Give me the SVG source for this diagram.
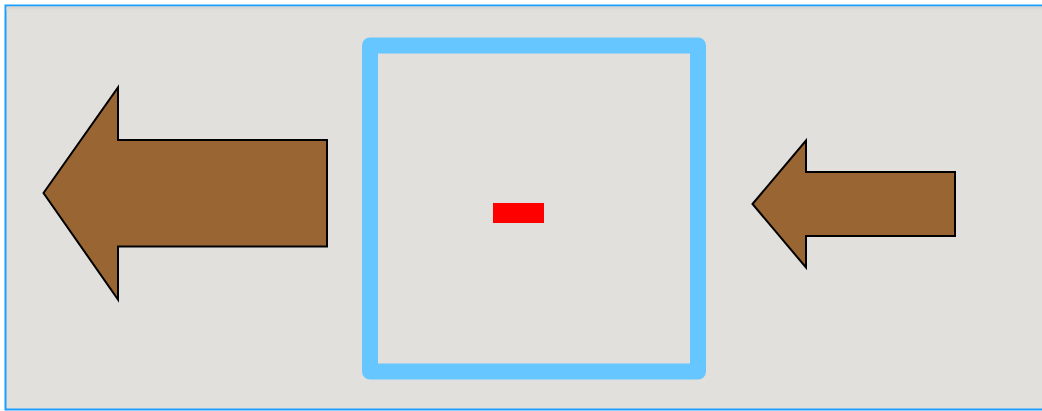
<svg xmlns="http://www.w3.org/2000/svg" width="1042" height="411" viewBox="0 0 1042 411">
<defs>
<style>
.arrow{fill:#996633;stroke:#000;stroke-width:2;stroke-linejoin:miter}
</style>
<linearGradient id="sh" x1="0" y1="0" x2="0" y2="1">
<stop offset="0" stop-color="#d3d2cf"/>
<stop offset="1" stop-color="#e1e0dd"/>
</linearGradient>
</defs>
<rect width="1042" height="411" fill="#ffffff"/>
<g id="frame">
<rect x="5.5" y="5.5" width="1040" height="404" fill="#e1e0dd" stroke="#1a9eff" stroke-width="2"/>
<rect x="6.5" y="6.5" width="1036" height="4" fill="url(#sh)"/>
</g>
<g id="box">
<rect x="370" y="45.5" width="328" height="326" fill="none" stroke="#66c6ff" stroke-width="16" stroke-linejoin="round"/>
</g>
<g id="marker">
<rect x="493" y="203" width="51" height="20" fill="#ff0000"/>
</g>
<g id="left-arrow">
<polygon class="arrow" points="43.5,193 118,87.5 118,140 327,140 327,246.5 118,246.5 118,299.5"/>
</g>
<g id="right-arrow">
<polygon class="arrow" points="752.5,204 806,140.5 806,172 955,172 955,236 806,236 806,267.5"/>
</g>
<g id="connectors"/>
</svg>
